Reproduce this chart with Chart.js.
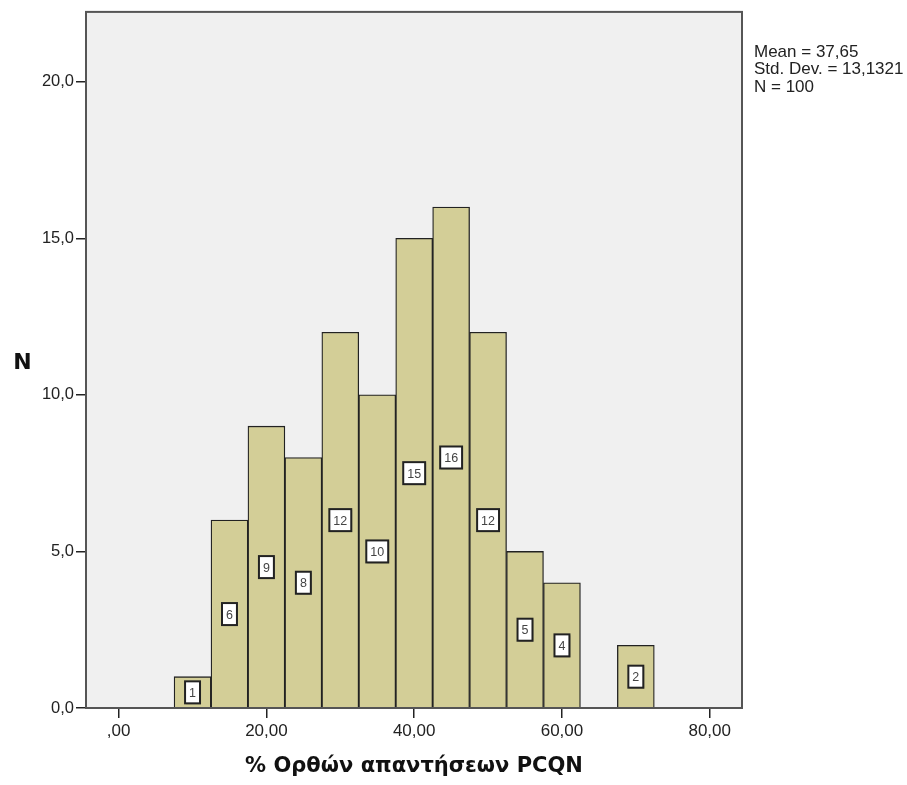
<!DOCTYPE html>
<html>
<head>
<meta charset="utf-8">
<script src="https://cdn.jsdelivr.net/npm/chart.js@4/dist/chart.umd.min.js"></script>
<style>
  body { margin: 0; background: #ffffff; }
  canvas { display: block; }
</style>
</head>
<body>
<canvas id="grafico" width="907" height="785"></canvas>
<script>
// Κέντρα κλάσεων (πλάτος 5) και συχνότητες
const kentraKlaseon = [10, 15, 20, 25, 30, 35, 40, 45, 50, 55, 60, 70];
const syxnotites = [1, 6, 9, 8, 12, 10, 15, 16, 12, 5, 4, 2];
const xTicks = [0, 20, 40, 60, 80];
const yTicks = [0, 5, 10, 15, 20];
const statistika = ["Mean = 37,65", "Std. Dev. = 13,1321", "N = 100"];
const titlosX = "% Ορθών απαντήσεων PCQN";
const titlosY = "N";

const GRAMMATOSEIRA = "'Liberation Sans', Arial, sans-serif";
const GRAMMATOSEIRA_TITLOU = "'DejaVu Sans', Verdana, sans-serif";

function morfiX(v) {
  if (v === 0) return ",00";
  return v.toFixed(2).replace(".", ",");
}

function morfiY(v) {
  return v.toFixed(1).replace(".", ",");
}

const plaisio = {
  id: "plaisio",
  beforeDraw(chart) {
    const a = chart.chartArea;
    const ctx = chart.ctx;
    ctx.save();
    ctx.fillStyle = "#f0f0f0";
    ctx.fillRect(a.left, a.top, a.right - a.left, a.bottom - a.top);
    ctx.restore();
  },
  afterDatasetsDraw(chart) {
    const ctx = chart.ctx;
    const meta = chart.getDatasetMeta(0);
    const yScale = chart.scales.y;
    ctx.save();
    ctx.font = "12.5px " + GRAMMATOSEIRA;
    ctx.textAlign = "center";
    ctx.textBaseline = "middle";
    meta.data.forEach(function (bar, i) {
      const timi = syxnotites[i];
      const y = yScale.getPixelForValue(timi / 2);
      const keimeno = String(timi);
      const w = ctx.measureText(keimeno).width + 8;
      const h = 22;
      ctx.fillStyle = "rgba(0,0,0,0.25)";
      ctx.fillRect(bar.x - w / 2 + 1, y - h / 2 + 1, w, h);
      ctx.fillStyle = "#ffffff";
      ctx.fillRect(bar.x - w / 2, y - h / 2, w, h);
      ctx.strokeStyle = "#222222";
      ctx.lineWidth = 2;
      ctx.strokeRect(bar.x - w / 2, y - h / 2, w, h);
      ctx.fillStyle = "#444444";
      ctx.fillText(keimeno, bar.x, y + 1);
    });
    ctx.restore();
  },
  afterDraw(chart) {
    const a = chart.chartArea;
    const ctx = chart.ctx;
    ctx.save();
    ctx.strokeStyle = "#555555";
    ctx.lineWidth = 2;
    ctx.strokeRect(a.left, a.top, a.right - a.left, a.bottom - a.top);

    // N (οριζόντιο, όπως στο SPSS)
    ctx.fillStyle = "#111111";
    ctx.font = "bold 22px " + GRAMMATOSEIRA_TITLOU;
    ctx.textAlign = "center";
    ctx.textBaseline = "middle";
    ctx.fillText(titlosY, 22.5, 363);

    // στατιστικά δεξιά
    ctx.fillStyle = "#222222";
    ctx.font = "17px " + GRAMMATOSEIRA;
    ctx.textAlign = "left";
    statistika.forEach(function (grammi, i) {
      ctx.fillText(grammi, 754, 52 + i * 17.5);
    });
    ctx.restore();
  }
};

new Chart(document.getElementById("grafico"), {
  type: "bar",
  data: {
    datasets: [{
      data: kentraKlaseon.map(function (x, i) { return { x: x, y: syxnotites[i] }; }),
      backgroundColor: "#d3ce97",
      borderColor: "#222222",
      borderWidth: 1.3,
      categoryPercentage: 1,
      barPercentage: 1
    }]
  },
  options: {
    responsive: false,
    animation: false,
    devicePixelRatio: 1,
    layout: { padding: { top: 10, right: 165, left: 0, bottom: 0 } },
    plugins: { legend: { display: false }, tooltip: { enabled: false } },
    scales: {
      x: {
        type: "linear",
        min: -4.42,
        max: 84.37,
        offset: false,
        afterFit: function (scale) { scale.height = 77; },
        afterBuildTicks: function (scale) {
          scale.ticks = xTicks.map(function (v) { return { value: v }; });
        },
        grid: { offset: false, drawOnChartArea: false, drawTicks: true, tickLength: 10, color: "#222222", lineWidth: 1.5 },
        border: { display: false },
        ticks: {
          callback: morfiX,
          color: "#222222",
          padding: 3,
          maxRotation: 0,
          font: { family: GRAMMATOSEIRA, size: 17 }
        },
        title: {
          display: true,
          text: titlosX,
          color: "#111111",
          padding: { top: 0, bottom: 6 },
          font: { family: GRAMMATOSEIRA_TITLOU, size: 21, weight: "bold" }
        }
      },
      y: {
        min: 0,
        max: 22.23,
        afterFit: function (scale) { scale.width = 86; },
        afterBuildTicks: function (scale) {
          scale.ticks = yTicks.map(function (v) { return { value: v }; });
        },
        grid: { drawOnChartArea: false, drawTicks: true, tickLength: 10, color: "#222222", lineWidth: 1.5 },
        border: { display: false },
        ticks: {
          callback: morfiY,
          color: "#222222",
          padding: 2,
          font: { family: GRAMMATOSEIRA, size: 16.5 }
        }
      }
    }
  },
  plugins: [plaisio]
});
</script>
</body>
</html>
